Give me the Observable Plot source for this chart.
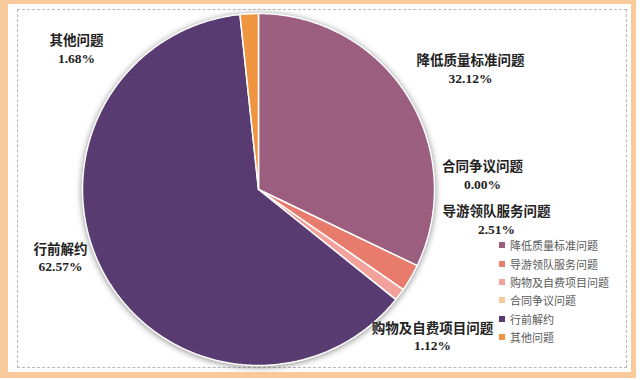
<!DOCTYPE html>
<html><head><meta charset="utf-8">
<script src="https://cdn.jsdelivr.net/npm/d3@7"></script>
<script src="https://cdn.jsdelivr.net/npm/@observablehq/plot@0.6"></script>
<style>
body{margin:0;background:#fff;}
#wrap{position:relative;width:640px;height:380px;overflow:hidden;}
#frame{position:absolute;left:0;top:0;width:636px;height:378px;background:#F9CB9C;}
#inner{position:absolute;left:8px;top:4px;width:623px;height:368px;background:#fff;}
#dash{position:absolute;left:17px;top:9px;width:610px;height:359px;border:1.5px dashed #b8b8b8;box-sizing:border-box;}
#chart{position:absolute;left:0;top:0;}
#legend{position:absolute;left:499px;top:236px;font-family:"Noto Sans CJK SC","Noto Sans",sans-serif;font-size:11px;color:#5a5a5a;}
.row{height:18.4px;display:flex;align-items:center;white-space:nowrap;}
.sw{width:6px;height:6px;margin-right:5px;flex:none;}
</style>
</head><body>
<div id="wrap">
  <div id="frame"></div>
  <div id="inner"></div>
  <div id="dash"></div>
  <div id="chart"></div>
  <div id="legend"></div>
</div>
<script>
// ---- data ----
const categories = ["降低质量标准问题","导游领队服务问题","购物及自费项目问题","合同争议问题","行前解约","其他问题"];
const values = [32.12, 2.51, 1.12, 0.00, 62.57, 1.68];
const palette = ["#9C5E7E","#E77B6C","#F2A29B","#F8C99A","#583C71","#F0953F"];

// ---- layout (pixels) ----
const cx = 258, cy = 189, r = 176;
const labelPos = {
  "降低质量标准问题": [470, 68],
  "导游领队服务问题": [496, 219],
  "购物及自费项目问题": [432, 335.5],
  "合同争议问题": [482, 174],
  "行前解约": [60, 256.5],
  "其他问题": [76, 48]
};

// ---- pie geometry via d3.pie ----
const pie = d3.pie().sort(null).value(d => d.value)
  (categories.map((c, i) => ({cat: c, value: values[i]})));
const pts = [];
for (const a of pie) {
  if (a.data.value <= 0) continue;
  pts.push({cat: a.data.cat, x: cx, y: cy});
  const n = Math.max(2, Math.ceil((a.endAngle - a.startAngle) / 0.01));
  for (let k = 0; k <= n; k++) {
    const t = a.startAngle + (a.endAngle - a.startAngle) * k / n;
    pts.push({cat: a.data.cat, x: cx + r * Math.sin(t), y: cy - r * Math.cos(t)});
  }
}
const labels = categories.map((c, i) => ({
  x: labelPos[c][0], y: labelPos[c][1],
  text: `${c}\n${values[i].toFixed(2)}%`
}));

const chart = Plot.plot({
  width: 640, height: 380, margin: 0,
  style: {background: "transparent", overflow: "visible"},
  x: {domain: [0, 640], range: [0, 640], axis: null},
  y: {domain: [0, 380], range: [0, 380], axis: null},
  color: {domain: categories, range: palette},
  marks: [
    Plot.line(pts, {x: "x", y: "y", z: "cat", fill: "cat", stroke: "white", strokeWidth: 1.5, curve: "linear-closed"}),
    Plot.text(labels, {x: "x", y: "y", text: "text", fontSize: 13.5, fontWeight: "bold",
      fontFamily: '"Liberation Serif","Noto Sans CJK SC",serif', fill: "#222", lineHeight: 1.27})
  ]
});
const g = chart.querySelector('g[aria-label="line"]');
if (g) g.style.filter = "drop-shadow(0px 1px 3px rgba(0,0,0,0.45))";
document.getElementById("chart").appendChild(chart);

// ---- legend ----
const leg = document.getElementById("legend");
categories.forEach((c, i) => {
  const row = document.createElement("div"); row.className = "row";
  const sw = document.createElement("span"); sw.className = "sw"; sw.style.background = palette[i];
  const tx = document.createElement("span"); tx.textContent = c;
  row.appendChild(sw); row.appendChild(tx); leg.appendChild(row);
});
</script>
</body></html>
